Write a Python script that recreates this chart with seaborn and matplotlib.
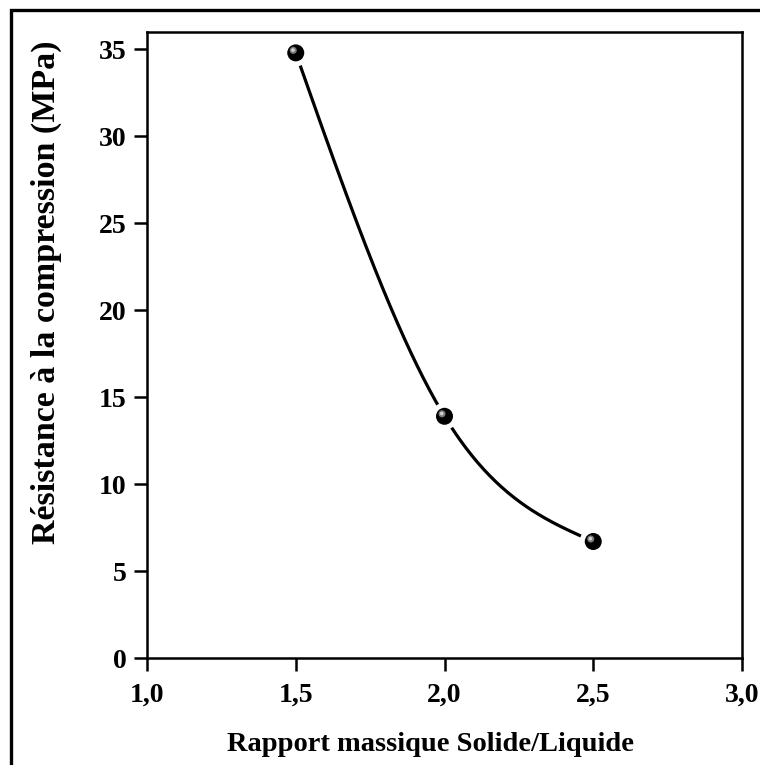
import numpy as np
import pandas as pd
import matplotlib
matplotlib.use("Agg")
import matplotlib.pyplot as plt
import matplotlib.transforms as mtransforms
from matplotlib.patches import Rectangle
import seaborn as sns

# Data
ratio = [1.5, 2.0, 2.5]
strength = [34.8, 13.9, 6.7]
x_ticks = [1.0, 1.5, 2.0, 2.5, 3.0]
x_tick_labels = ["1,0", "1,5", "2,0", "2,5", "3,0"]
y_ticks = [0, 5, 10, 15, 20, 25, 30, 35]
x_label = "Rapport massique Solide/Liquide"
y_label = "Résistance à la compression (MPa)"

sns.set_style("white")
plt.rcParams['font.family'] = ['Liberation Serif', 'DejaVu Serif']
plt.rcParams['font.weight'] = 'bold'
plt.rcParams['text.color'] = 'black'
plt.rcParams['axes.labelcolor'] = 'black'
plt.rcParams['xtick.color'] = 'black'
plt.rcParams['ytick.color'] = 'black'

df = pd.DataFrame({"ratio": ratio, "strength": strength})

# natural cubic spline through the measured points
def natural_spline(xs, ys, n=200):
    xs = np.asarray(xs, float); ys = np.asarray(ys, float)
    k = len(xs); h = np.diff(xs)
    A = np.zeros((k, k)); r = np.zeros(k)
    A[0, 0] = 1; A[-1, -1] = 1
    for i in range(1, k - 1):
        A[i, i - 1] = h[i - 1] / 6
        A[i, i] = (h[i - 1] + h[i]) / 3
        A[i, i + 1] = h[i] / 6
        r[i] = (ys[i + 1] - ys[i]) / h[i] - (ys[i] - ys[i - 1]) / h[i - 1]
    M = np.linalg.solve(A, r)
    xx = np.linspace(xs[0], xs[-1], n)
    yy = np.empty_like(xx)
    for j, x in enumerate(xx):
        i = min(np.searchsorted(xs, x, side='right') - 1, k - 2)
        t1 = xs[i + 1] - x; t0 = x - xs[i]
        yy[j] = (M[i] * t1**3 / (6 * h[i]) + M[i + 1] * t0**3 / (6 * h[i])
                 + (ys[i] / h[i] - M[i] * h[i] / 6) * t1
                 + (ys[i + 1] / h[i] - M[i + 1] * h[i] / 6) * t0)
    return xx, yy

sx, sy = natural_spline(ratio, strength)
curve = pd.DataFrame({"x": sx, "y": sy})

fig = plt.figure(figsize=(7.6, 7.65), dpi=100)
ax = fig.add_axes([147 / 760, 1 - 658 / 765, (742 - 147) / 760, (658 - 32) / 765])

sns.lineplot(data=curve, x="x", y="y", ax=ax, color="black", linewidth=2.3,
             sort=False, zorder=2)
# white halo creating gap around markers
sns.scatterplot(data=df, x="ratio", y="strength", ax=ax, s=380, color="white",
                edgecolor="none", zorder=3)
sns.scatterplot(data=df, x="ratio", y="strength", ax=ax, s=150, color="black",
                edgecolor="none", zorder=4)
# highlight for 3D look
off = mtransforms.offset_copy(ax.transData, fig=fig, x=-1.8, y=1.8, units='points')
ax.scatter(df["ratio"], df["strength"], s=26, color="#7a7a7a", edgecolors="none",
           transform=off, zorder=5)
off2 = mtransforms.offset_copy(ax.transData, fig=fig, x=-2.0, y=2.0, units='points')
ax.scatter(df["ratio"], df["strength"], s=7, color="#cfcfcf", edgecolors="none",
           transform=off2, zorder=6)

ax.set_xlim(1.0, 3.0)
ax.set_ylim(0, 36)
ax.set_xticks(x_ticks)
ax.set_xticklabels(x_tick_labels)
ax.set_yticks(y_ticks)
ax.tick_params(axis='both', direction='out', length=9.5, width=1.8, labelsize=20,
               bottom=True, left=True)
ax.tick_params(axis='y', pad=5)
ax.tick_params(axis='x', pad=8)
for lab in ax.get_xticklabels() + ax.get_yticklabels():
    lab.set_fontweight('bold')
ax.set_xlabel(x_label, fontsize=20.5, fontweight='bold', labelpad=18)
ax.set_ylabel(y_label, fontsize=24.5, fontweight='bold', labelpad=27)
ax.xaxis.label.set_x(0.477)
ax.yaxis.label.set_y(0.585)
for sp in ax.spines.values():
    sp.set_visible(True)
    sp.set_linewidth(1.8)
    sp.set_color("black")

# outer frame
fig.patches.append(Rectangle((11 / 760, -0.05), 1.1, 1 - 10 / 765 + 0.05,
                             transform=fig.transFigure, fill=False,
                             edgecolor="black", linewidth=2.4, zorder=10))

fig.savefig("out.png", dpi=100)
